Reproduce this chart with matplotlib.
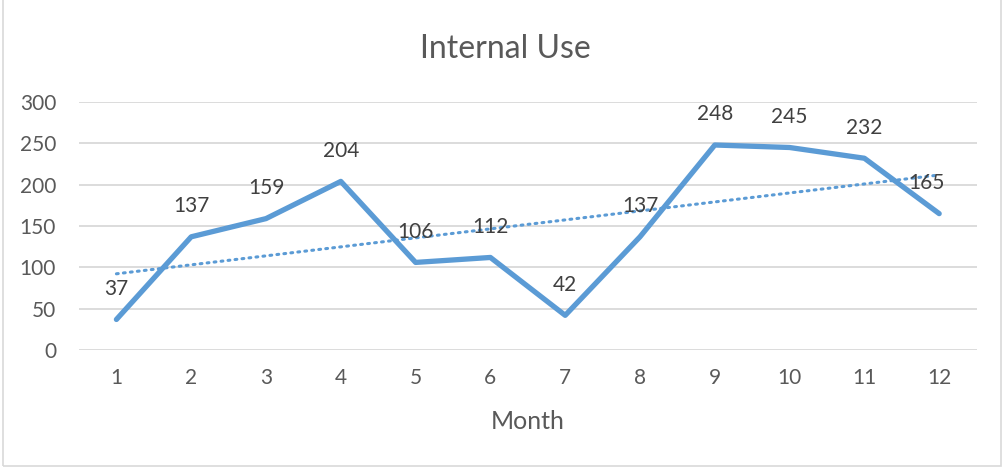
import numpy as np
import matplotlib
matplotlib.use('Agg')
import matplotlib.pyplot as plt
from matplotlib.patches import Rectangle

matplotlib.rcParams['font.family'] = ['Lato', 'DejaVu Sans']

months = [1, 2, 3, 4, 5, 6, 7, 8, 9, 10, 11, 12]
usage = [37, 137, 159, 204, 106, 112, 42, 137, 248, 245, 232, 165]
y_ticks = [0, 50, 100, 150, 200, 250, 300]

blue = '#5B9BD5'
text_color = '#595959'
grid_color = '#D9D9D9'

fig = plt.figure(figsize=(10.04, 4.68), dpi=100)
ax = fig.add_axes([0.0787, 0.252, 0.894, 0.530])

ax.plot(months, usage, color=blue, linewidth=3.8, solid_joinstyle='round',
        solid_capstyle='round', zorder=3)

# linear trendline
coef = np.polyfit(months, usage, 1)
trend = np.polyval(coef, months)
ax.plot(months, trend, color=blue, linewidth=2.2, linestyle=(0, (0.6, 1.7)),
        dash_capstyle='round', zorder=2)

for m, v in zip(months, usage):
    dx = -9 if m == months[-1] else 0
    ax.annotate(str(v), (m, v), xytext=(dx, 22), textcoords='offset points',
                ha='center', va='center', fontsize=15, color='#404040')

ax.set_xlim(0.5, 12.5)
ax.set_ylim(0, 300)
ax.set_xticks(months)
ax.set_yticks(y_ticks)
ax.tick_params(axis='both', length=0, labelsize=15, labelcolor=text_color)
ax.tick_params(axis='x', pad=13)
ax.tick_params(axis='y', pad=16.5)
ax.grid(axis='y', color=grid_color, linewidth=1.3)
ax.set_axisbelow(True)
for s in ax.spines.values():
    s.set_visible(False)

ax.set_xlabel('Month', fontsize=18, color=text_color, labelpad=16)
fig.text(0.503, 0.895, 'Internal Use', ha='center', va='center',
         fontsize=23, color=text_color)

fig.patches.append(Rectangle((0.003, 0.004), 0.994, 1.2, transform=fig.transFigure,
                             fill=False, edgecolor='#D9D9D9', linewidth=1.2))

fig.savefig('out.png', dpi=100, facecolor='white')
